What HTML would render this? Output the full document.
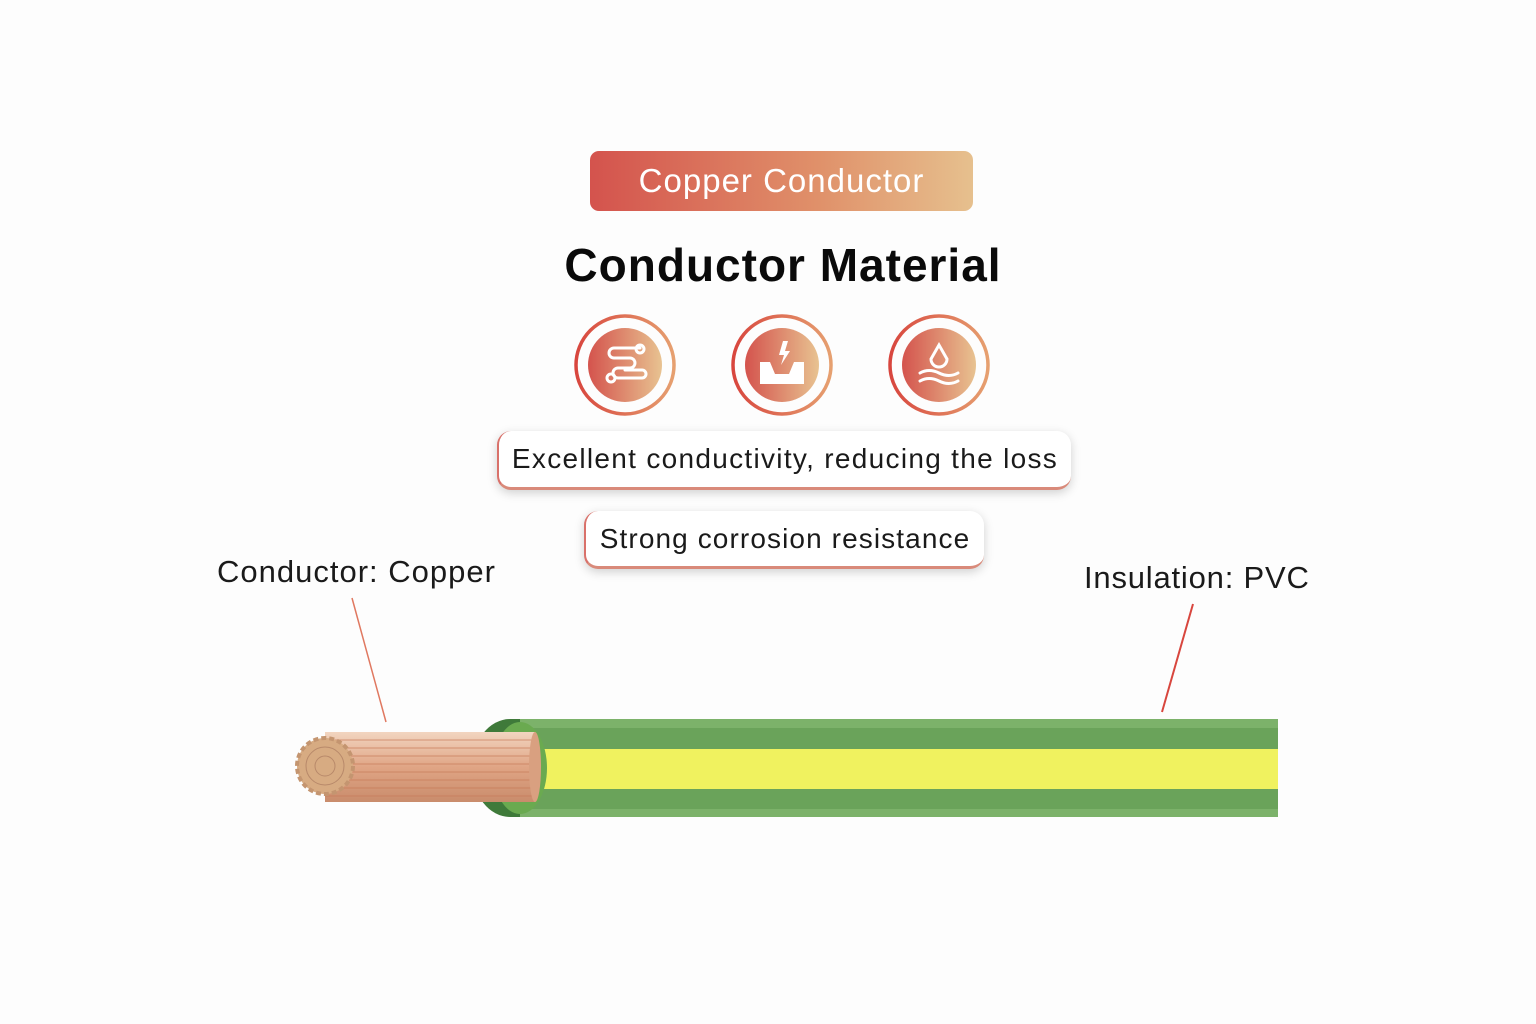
<!DOCTYPE html>
<html><head><meta charset="utf-8"><style>
html,body{margin:0;padding:0;background:#fdfdfd;}
body{width:1536px;height:1024px;position:relative;overflow:hidden;font-family:"Liberation Sans",sans-serif;}
.badge{position:absolute;left:590px;top:151px;width:383px;height:60px;border-radius:9px;background:linear-gradient(90deg,#d4534d,#e0916a 60%,#e6c08e);color:#fff;font-size:33px;letter-spacing:1px;line-height:60px;text-align:center;}
.title{position:absolute;left:0;width:1566px;top:238px;text-align:center;font-size:46px;letter-spacing:1px;font-weight:bold;color:#0a0a0a;}
.box{position:absolute;background:#fff;border-radius:14px;box-shadow:0 3px 10px rgba(0,0,0,.18);border-bottom:3px solid #d98a7a;border-left:2px solid #d9716a;font-size:28px;color:#1a1a1a;text-align:center;box-sizing:border-box;white-space:nowrap;}
.lbl{position:absolute;font-size:31px;color:#1a1a1a;white-space:nowrap;}
</style></head><body>
<div class="badge">Copper Conductor</div>
<div class="title">Conductor Material</div>
<div class="box" style="left:497px;top:431px;width:574px;height:59px;line-height:56px;letter-spacing:1.3px;">Excellent conductivity, reducing the loss</div>
<div class="box" style="left:584px;top:511px;width:400px;height:58px;line-height:56px;letter-spacing:1.1px;">Strong corrosion resistance</div>
<div class="lbl" style="left:217px;top:554px;letter-spacing:1px;">Conductor: Copper</div>
<div class="lbl" style="left:1084px;top:560px;letter-spacing:0.8px;">Insulation: PVC</div>
<svg width="1536" height="1024" style="position:absolute;left:0;top:0">
<defs>
<linearGradient id="g" x1="0" x2="1"><stop offset="0" stop-color="#d4534d"/><stop offset="1" stop-color="#e8c391"/></linearGradient>
<linearGradient id="r" x1="0" x2="1"><stop offset="0" stop-color="#d8463e"/><stop offset="1" stop-color="#e6a070"/></linearGradient>
<linearGradient id="cu" x1="0" y1="0" x2="0" y2="1"><stop offset="0" stop-color="#f2d5c0"/><stop offset=".5" stop-color="#e0a585"/><stop offset="1" stop-color="#c98c6c"/></linearGradient>
</defs>
<g fill="none" stroke="url(#r)" stroke-width="3.5">
<circle cx="625" cy="365" r="49"/><circle cx="782" cy="365" r="49"/><circle cx="939" cy="365" r="49"/></g>
<g fill="url(#g)"><circle cx="625" cy="365" r="37"/><circle cx="782" cy="365" r="37"/><circle cx="939" cy="365" r="37"/></g>
<g stroke="#fff" stroke-width="3" fill="none" stroke-linecap="round">
<path d="M640 348 H614 a5 5 0 0 0 0 10 H630 a5 5 0 0 1 0 10 H618 a5 5 0 0 0 0 10 H642 a4 4 0 0 0 0 -8 H625"/>
<circle cx="640" cy="349" r="4"/><circle cx="611" cy="378" r="4"/>
<path d="M939 345 l-8 14 a8 8 0 1 0 16 0 z"/>
<path d="M920 373 q9 -5 19 0 t19 0 M920 381 q9 -5 19 0 t19 0"/>
</g>
<path d="M760 362 h10 l5 12 h14 l5 -12 h10 v22 h-44 z" fill="#fff"/>
<path d="M783 341 l-4 14 h5 l-3 10 l9 -14 h-5 l3 -10 z" fill="#fff"/>
<line x1="352" y1="598" x2="386" y2="722" stroke="#e07860" stroke-width="1.5"/>
<line x1="1193" y1="604" x2="1162" y2="712" stroke="#d8463e" stroke-width="2"/>
<rect x="510" y="719" width="768" height="98" fill="#7cb26a"/>
<rect x="510" y="728" width="768" height="21" fill="#6aa35a"/>
<rect x="510" y="789" width="768" height="20" fill="#6aa35a"/>
<rect x="510" y="749" width="768" height="40" fill="#f0f25f"/>
<path d="M510 719 h10 v98 h-10 a38 49 0 0 1 0 -98z" fill="#3f7a3a"/>
<ellipse cx="520" cy="768" rx="27" ry="46" fill="#6aaa50"/>
<rect x="325" y="732" width="210" height="70" fill="url(#cu)"/>
<g stroke="#c77a58" stroke-width="1" opacity=".7">
<line x1="325" y1="740" x2="535" y2="740"/><line x1="325" y1="748" x2="535" y2="748"/><line x1="325" y1="756" x2="535" y2="756"/><line x1="325" y1="764" x2="535" y2="764"/><line x1="325" y1="772" x2="535" y2="772"/><line x1="325" y1="780" x2="535" y2="780"/><line x1="325" y1="788" x2="535" y2="788"/><line x1="325" y1="796" x2="535" y2="796"/></g>
<ellipse cx="535" cy="767" rx="6" ry="35" fill="#d9a080"/>
<circle cx="325" cy="766" r="28" fill="#d7ab82" stroke="#c49570" stroke-width="4" stroke-dasharray="5 3"/>
<g fill="none" stroke="#b8896a" stroke-width="1"><circle cx="325" cy="766" r="19"/><circle cx="325" cy="766" r="10"/></g>
</svg>
</body></html>
